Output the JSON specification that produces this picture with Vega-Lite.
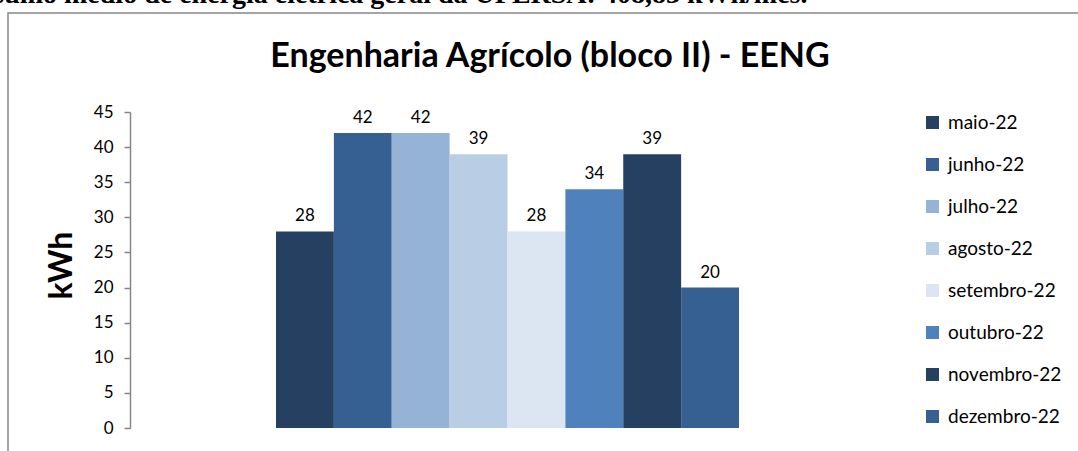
{
  "$schema": "https://vega.github.io/schema/vega-lite/v6.json",
  "width": 1072,
  "height": 440,
  "autosize": {"type": "none"},
  "padding": {"left": 8, "top": 13, "right": -2, "bottom": -2},
  "background": "white",
  "config": {"view": {"stroke": "#868686", "strokeWidth": 1.5}, "font": "Lato"},
  "title": {
    "text": "Engenharia Agrícolo (bloco II) - EENG",
    "anchor": "middle",
    "frame": "group",
    "font": "Lato",
    "fontSize": 34,
    "fontWeight": "bold",
    "color": "black",
    "baseline": "alphabetic",
    "offset": -121,
    "dx": 6
  },
  "data": {
    "values": [
      {"mes": "maio-22", "kwh": 28},
      {"mes": "junho-22", "kwh": 42},
      {"mes": "julho-22", "kwh": 42},
      {"mes": "agosto-22", "kwh": 39},
      {"mes": "setembro-22", "kwh": 28},
      {"mes": "outubro-22", "kwh": 34},
      {"mes": "novembro-22", "kwh": 39},
      {"mes": "dezembro-22", "kwh": 20}
    ]
  },
  "encoding": {
    "x": {
      "field": "mes",
      "type": "nominal",
      "sort": null,
      "scale": {"range": [268, 731], "paddingInner": 0, "paddingOuter": 0},
      "axis": {
        "orient": "top",
        "labels": false,
        "ticks": false,
        "domain": false,
        "grid": false,
        "title": "Consumo médio de energia elétrica geral da UFERSA: 408,83 kWh/mês.",
        "titleFont": "Liberation Serif",
        "titleFontSize": 28,
        "titleFontWeight": "bold",
        "titleColor": "black",
        "titleX": 799,
        "titleY": -11,
        "titleAlign": "right",
        "titleBaseline": "alphabetic",
        "titleAngle": 0
      }
    },
    "y": {
      "field": "kwh",
      "type": "quantitative",
      "scale": {"domain": [0, 45], "range": [415, 99], "nice": false},
      "axis": {
        "orient": "left",
        "offset": -122,
        "values": [0, 5, 10, 15, 20, 25, 30, 35, 40, 45],
        "grid": false,
        "domainColor": "#868686",
        "domainWidth": 1.5,
        "tickColor": "#868686",
        "tickWidth": 1.5,
        "tickSize": 6,
        "labelFont": "Lato",
        "labelFontSize": 17,
        "labelColor": "black",
        "labelPadding": 11,
        "title": "kWh",
        "titleFont": "Lato",
        "titleFontSize": 32,
        "titleFontWeight": "bold",
        "titleColor": "black",
        "titleX": -69,
        "titleY": 252,
        "titleAngle": -90,
        "titleBaseline": "middle",
        "titleAlign": "center"
      }
    }
  },
  "layer": [
    {
      "mark": {"type": "bar"},
      "encoding": {
        "color": {
          "field": "mes",
          "type": "nominal",
          "sort": null,
          "scale": {
            "domain": ["maio-22", "junho-22", "julho-22", "agosto-22", "setembro-22", "outubro-22", "novembro-22", "dezembro-22"],
            "range": ["#264061", "#366092", "#95B3D7", "#B9CDE5", "#DCE6F2", "#4F81BD", "#254061", "#376092"]
          },
          "legend": {
            "orient": "none",
            "legendX": 915,
            "legendY": 100,
            "title": null,
            "symbolType": "square",
            "symbolSize": 169,
            "symbolStrokeWidth": 0,
            "labelFont": "Lato",
            "labelFontSize": 19,
            "labelColor": "black",
            "labelOffset": 6,
            "rowPadding": 22,
            "direction": "vertical"
          }
        }
      }
    },
    {
      "mark": {"type": "text", "dy": -10, "baseline": "alphabetic", "fontSize": 17, "font": "Lato", "color": "black"},
      "encoding": {"text": {"field": "kwh", "type": "quantitative"}}
    }
  ]
}
